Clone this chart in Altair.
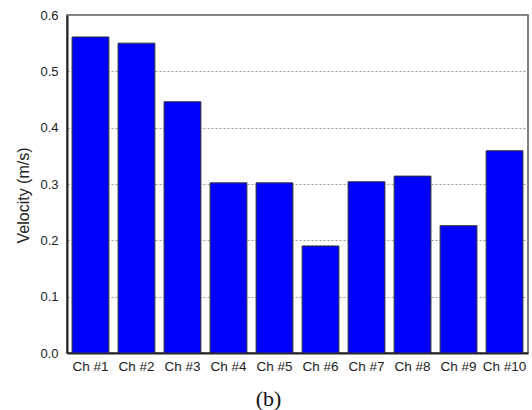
import altair as alt
import pandas as pd

channels = ["Ch #1", "Ch #2", "Ch #3", "Ch #4", "Ch #5",
            "Ch #6", "Ch #7", "Ch #8", "Ch #9", "Ch #10"]
velocity = [0.561, 0.550, 0.446, 0.302, 0.302,
            0.190, 0.304, 0.314, 0.226, 0.359]
y_ticks = [0.0, 0.1, 0.2, 0.3, 0.4, 0.5, 0.6]

df = pd.DataFrame({"channel": channels, "velocity": velocity})

bars = alt.Chart(df).mark_bar(
    color="#0000ff", stroke="#333333", strokeWidth=1
).encode(
    x=alt.X(
        "channel:N", sort=channels, title=None,
        scale=alt.Scale(paddingInner=0.2, paddingOuter=0.11),
        axis=alt.Axis(
            labelAngle=0, labelFont="Liberation Sans", labelFontSize=13.5,
            labelColor="#222222", ticks=False, labelPadding=6,
            domainColor="#222222", domainWidth=2,
        ),
    ),
    y=alt.Y(
        "velocity:Q", title="Velocity (m/s)",
        scale=alt.Scale(domain=[0, 0.6], nice=False),
        axis=alt.Axis(
            values=y_ticks, format=".1f", ticks=False,
            labelFont="Liberation Sans", labelFontSize=13,
            labelColor="#222222", labelPadding=9,
            titleFont="Liberation Sans", titleFontSize=16,
            titleFontWeight="normal", titleColor="#222222",
            titlePadding=8, titleY=180,
            grid=True, gridColor="#999999", gridDash=[2, 2],
            gridWidth=1, domainColor="#222222", domainWidth=2,
        ),
    ),
)

chart = bars.properties(
    width=461,
    height=338,
    autosize=alt.AutoSizeParams(type="none"),
    padding={"left": 67, "top": 15, "right": 4, "bottom": 57},
    title=alt.TitleParams(
        "(b)", orient="bottom", font="Liberation Serif", fontSize=22,
        fontWeight="normal", color="#111111", offset=16, anchor="middle",
        dx=-29,
    ),
).configure_view(
    stroke="#555555", strokeWidth=1.5
)

chart.save("out.html", embed_options={"renderer": "svg", "actions": False})
